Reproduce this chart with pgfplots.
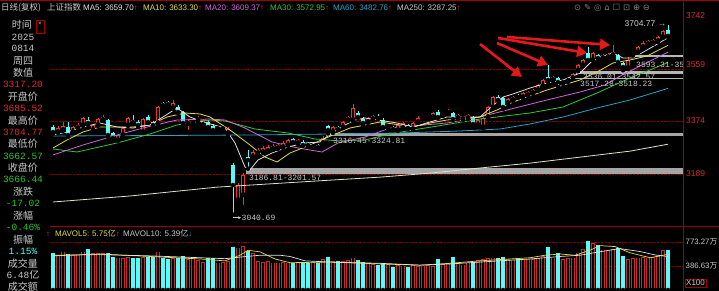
\documentclass[border=0pt]{standalone}
\usepackage{pgfplots}
\pgfplotsset{compat=1.18}
\usepackage{pgfplotstable}
\usepackage{fontspec}
\setmainfont{Liberation Sans}
\newfontfamily\cjk{Noto Sans CJK SC}
\newfontfamily\mono{Liberation Mono}
\newfontfamily\sym{DejaVu Sans}
\usetikzlibrary{arrows.meta}
\definecolor{upred}{RGB}{240,50,50}
\definecolor{dncyan}{RGB}{84,252,252}
\definecolor{ma5c}{RGB}{225,225,225}
\definecolor{ma10c}{RGB}{230,220,70}
\definecolor{ma20c}{RGB}{210,100,220}
\definecolor{ma30c}{RGB}{50,200,50}
\definecolor{ma60c}{RGB}{40,160,200}
\definecolor{ma250c}{RGB}{225,225,200}
\definecolor{gridred}{RGB}{130,0,0}
\definecolor{framered}{RGB}{160,0,0}
\definecolor{txtgrey}{RGB}{200,200,200}
\definecolor{numred}{RGB}{230,40,40}
\definecolor{numgreen}{RGB}{40,200,40}
\definecolor{bandgrey}{RGB}{165,165,165}
\definecolor{arrowred}{RGB}{230,25,25}
\definecolor{axred}{RGB}{220,40,40}

\pgfplotstableread{
i o h l c
1 3330 3351 3326.5 3344
2 3337 3365 3333.5 3351
4 3330 3351 3326.5 3347.5
5 3344 3361.5 3340.5 3354.5
6 3354.5 3382.5 3351 3379
8 3337 3358 3333.5 3354.5
9 3354.5 3379 3351 3375.5
10 3372 3389.5 3368.5 3382.5
13 3302 3323 3298.5 3319.5
14 3319.5 3347.5 3316 3344
15 3354.5 3382.5 3351 3379
18 3330 3379 3326.5 3375.5
21 3361.5 3421 3358 3417.5
24 3414 3442 3410.5 3431.5
27 3358 3372 3330 3365
28 3361.5 3372 3358 3368.5
29 3372 3386 3368.5 3379
30 3354.5 3375.5 3347.5 3372
33 3340.5 3351 3337 3347.5
34 3340.5 3354.5 3337 3347.5
35 3326.5 3347.5 3319.5 3340.5
37 3092 3151.5 3081.5 3144.5
38 3109.5 3186.81 3067.5 3179.5
40 3242.5 3267 3239 3260
41 3256.5 3274 3249.5 3267
42 3260 3281 3256.5 3274
43 3263.5 3284.5 3260 3277.5
44 3270.5 3288 3267 3281
45 3274 3291.5 3270.5 3284.5
46 3277.5 3298.5 3274 3291.5
47 3284.5 3305.5 3281 3302
49 3291.5 3305.5 3288 3302
52 3277.5 3288 3274 3284.5
54 3291.5 3316.45 3288 3309
56 3330 3351 3326.5 3347.5
58 3347.5 3368.5 3344 3365
59 3372 3386 3368.5 3382.5
60 3372 3428 3368.5 3414
63 3365 3382.5 3361.5 3379
64 3375.5 3389.5 3372 3386
67 3344 3354.5 3340.5 3351
69 3337 3358 3333.5 3354.5
70 3344 3365 3340.5 3361.5
72 3340.5 3365 3337 3361.5
73 3365 3386 3361.5 3379
74 3379 3389.5 3375.5 3386
75 3382.5 3393 3379 3389.5
76 3382.5 3400 3379 3396.5
78 3389.5 3400 3386 3396.5
79 3396.5 3410.5 3393 3403.5
81 3379 3393 3375.5 3389.5
82 3375.5 3386 3372 3382.5
83 3379 3393 3375.5 3389.5
85 3354.5 3375.5 3351 3372
86 3347.5 3382.5 3344 3379
87 3382.5 3421 3379 3417.5
88 3417.5 3456 3414 3452.5
91 3431.5 3449 3428 3445.5
92 3442 3456 3438.5 3452.5
94 3452.5 3470 3449 3466.5
95 3459.5 3473.5 3456 3470
96 3466.5 3480.5 3463 3477
97 3477 3498 3473.5 3494.5
98 3491 3515.5 3487.5 3512
100 3512 3526 3508.5 3522.5
102 3501.5 3512 3498 3508.5
103 3508.5 3517.28 3505 3515
104 3519 3536.01 3518.23 3533
105 3545 3568 3542.57 3564.5
106 3564.5 3585.5 3561 3582
108 3582 3610 3578.5 3606.5
110 3589 3603 3585.5 3599.5
111 3592.5 3606.5 3589 3603
112 3599.5 3634.5 3596 3610
115 3554 3593.31 3550.5 3582
116 3599.5 3610 3597.5 3606.5
117 3610 3631 3606.5 3627.5
118 3627.5 3648.5 3624 3641.5
119 3638 3652 3634.5 3648.5
120 3641.5 3655.5 3638 3652
121 3648.5 3666 3645 3662.5
122 3662.5 3687 3659 3683.46
}\uptab

\pgfplotstableread{
i o h l c
0 3347.5 3354.5 3323 3330
3 3347.5 3365 3312.5 3319.5
7 3372 3382.5 3354.5 3361.5
11 3372 3375.5 3312.5 3319.5
12 3326.5 3330 3302 3309
16 3372 3389.5 3361.5 3365
17 3365 3372 3347.5 3354.5
19 3382.5 3389.5 3361.5 3365
20 3365 3368.5 3347.5 3354.5
22 3431.5 3435 3421 3424.5
23 3435 3438.5 3424.5 3428
25 3417.5 3424.5 3396.5 3400
26 3400 3403.5 3358 3361.5
31 3365 3372 3337 3347.5
32 3351 3358 3326.5 3337
36 3214.5 3221.5 3040.69 3144.5
39 3242.5 3267 3201.57 3232
48 3305.5 3309 3291.5 3295
50 3295 3302 3281 3284.5
51 3291.5 3295 3281 3284.5
53 3284.5 3288 3274 3277.5
55 3351 3354.5 3324.81 3337
57 3347.5 3351 3337 3340.5
61 3396.5 3403.5 3379 3382.5
62 3375.5 3382.5 3354.5 3361.5
65 3382.5 3393 3375.5 3379
66 3372 3379 3344 3347.5
68 3347.5 3351 3337 3340.5
71 3354.5 3358 3340.5 3344
77 3400 3407 3379 3382.5
80 3396.5 3400 3372 3375.5
84 3382.5 3386 3354.5 3358
89 3452.5 3459.5 3438.5 3442
90 3449 3452.5 3410.5 3417.5
93 3456 3463 3449 3452.5
99 3522.5 3564.5 3505 3512
101 3519 3522.5 3487.5 3505
107 3606.5 3627.5 3578.5 3582
109 3599.5 3603 3585.5 3589
113 3599.5 3603 3568 3575
114 3571.5 3575 3546 3557.5
123 3685.52 3704.77 3662.57 3666.44
}\dntab

\pgfplotstableread{
i v
1 560
2 617
4 560
5 570
6 617
8 590
9 590
10 590
13 520
14 515
15 530
18 530
21 617
24 515
27 500
28 515
29 480
30 450
33 440
34 450
35 460
37 680
38 709
40 590
41 470
42 450
43 460
44 440
45 440
46 450
47 440
49 440
52 450
54 500
56 470
58 460
59 480
60 520
63 440
64 420
67 420
69 400
70 390
72 400
73 385
74 390
75 395
76 380
78 420
79 430
81 430
82 410
83 440
85 480
86 500
87 510
88 520
91 500
92 490
94 500
95 495
96 500
97 510
98 548
100 520
102 500
103 510
104 520
105 600
106 655
108 752
110 650
111 640
112 660
115 500
116 510
117 520
118 530
119 520
120 530
121 540
122 644
}\vup

\pgfplotstableread{
i v
0 591
3 580
7 660
11 590
12 532
16 515
17 520
19 532
20 532
22 520
23 500
25 515
26 540
31 515
32 520
36 693
39 627
48 435
50 435
51 435
53 440
55 530
57 470
61 480
62 455
65 410
66 430
68 376
71 376
77 500
80 537
84 446
89 521
90 537
93 521
99 687
101 601
107 789
109 725
113 682
114 548
123 648
}\vdn

\begin{document}
\begin{tikzpicture}[x=1pt,y=1pt]
\fill[black] (0pt,0pt) rectangle (719pt,291pt);
\path[use as bounding box] (0pt,0pt) rectangle (719pt,291pt);

% ---------------- price panel ----------------
\begin{axis}[at={(0pt,65pt)}, anchor=south west, scale only axis,
  width=683pt, height=214pt,
  xmin=-10.6, xmax=126, ymin=3001, ymax=3750,
  axis line style={draw=none}, xtick=\empty,
  ytick={3183,3368.5,3550.5}, yticklabels={}, major tick length=0pt,
  ymajorgrids, grid style={densely dotted, gridred, line width=0.6pt},
  clip=false]
% gap bands
\addplot[fill=bandgrey, draw=bandgrey, line width=0.6pt] coordinates {(38.6,3186.81) (126,3186.81) (126,3201.57) (38.6,3201.57)} -- cycle;
\addplot[fill=bandgrey, draw=bandgrey, line width=0.8pt] coordinates {(54.6,3316.45) (126,3316.45) (126,3324.81) (54.6,3324.81)} -- cycle;
\addplot[fill=bandgrey!80, draw=bandgrey!80, line width=0.8pt] coordinates {(104.6,3536.01) (126,3536.01) (126,3542.57) (104.6,3542.57)} -- cycle;
\addplot[fill=bandgrey!80, draw=bandgrey!80, line width=1.2pt] coordinates {(103.6,3517.28) (126,3517.28) (126,3518.23) (103.6,3518.23)} -- cycle;
\addplot[fill=bandgrey!80, draw=bandgrey!80, line width=0.8pt] coordinates {(115.6,3593.31) (126,3593.31) (126,3597.5) (115.6,3597.5)} -- cycle;

% wicks
\addplot[only marks, mark=none, error bars/.cd, y dir=plus, y explicit, error mark=none,
  error bar style={draw=upred, line width=0.7pt}]
  table[x=i, y=l, y error plus expr={\thisrow{h}-\thisrow{l}}] {\uptab};
\addplot[only marks, mark=none, error bars/.cd, y dir=plus, y explicit, error mark=none,
  error bar style={draw=dncyan, line width=0.7pt}]
  table[x=i, y=l, y error plus expr={\thisrow{h}-\thisrow{l}}] {\dntab};
% bodies
\addplot[only marks, mark=none, error bars/.cd, y dir=plus, y explicit, error mark=none,
  error bar style={draw=upred, line width=3.6pt}]
  table[x=i, y=o, y error plus expr={\thisrow{c}-\thisrow{o}}] {\uptab};
\addplot[only marks, mark=none, error bars/.cd, y dir=plus, y explicit, error mark=none,
  error bar style={draw=black, line width=2.2pt}]
  table[x=i, y expr={\thisrow{o}+2.5}, y error plus expr={max(\thisrow{c}-\thisrow{o}-5,0)}] {\uptab};
\addplot[only marks, mark=none, error bars/.cd, y dir=plus, y explicit, error mark=none,
  error bar style={draw=dncyan, line width=3.6pt}]
  table[x=i, y=c, y error plus expr={\thisrow{o}-\thisrow{c}}] {\dntab};

% moving averages
\addplot[ma250c, line width=0.8pt] coordinates {(0,3085) (15.4,3106) (32.8,3137) (49.4,3155) (65.4,3172) (75.4,3186) (85.4,3204) (95.4,3221) (105.4,3242) (115.4,3263) (123,3287.25)};
\addplot[ma60c, line width=0.8pt] coordinates {(0,3316) (19.4,3317.5) (39.4,3319.5) (55.4,3323) (69.4,3326.5) (81.4,3333.5) (89.4,3340.5) (95.4,3358) (102,3382.5) (108.8,3414) (115.4,3442) (123,3482.76)};
\addplot[ma30c, line width=0.8pt] coordinates {(0,3270.5) (4.8,3260) (12.8,3291.5) (19.4,3323) (24.8,3354.5) (31.4,3372) (34.4,3368.5) (40.4,3340.5) (47,3326.5) (52.4,3305.5) (57.4,3298.5) (62.4,3302) (67.4,3323) (72,3337) (79.4,3358) (85.4,3375.5) (95.4,3396.5) (102,3417.5) (108.8,3466.5) (115.4,3519) (123,3572.95)};
\addplot[ma20c, line width=0.8pt] coordinates {(0,3249.5) (6,3284.5) (12.8,3319.5) (18,3344) (24.8,3372) (31.4,3375.5) (34.4,3372) (38.4,3344) (43.8,3295) (49,3274) (53.8,3260) (57,3291.5) (62.4,3312.5) (67.4,3344) (72,3351) (78.8,3361.5) (85.4,3382.5) (92.4,3414) (98.8,3442) (105.4,3470) (110.4,3494.5) (113.8,3529.5) (117.8,3564.5) (123,3609.37)};
\addplot[ma10c, line width=0.8pt] coordinates {(0,3274) (2.8,3302) (6,3330) (9.4,3347.5) (16,3347.5) (19.4,3354.5) (22.8,3382.5) (26.4,3396.5) (29.4,3393) (31.4,3382.5) (35.4,3337) (39.4,3284.5) (42.4,3242.5) (44.8,3225) (47.4,3256.5) (51.4,3284.5) (56,3319.5) (59.4,3344) (65.4,3365) (72,3347.5) (75.4,3361.5) (78.8,3372) (85.4,3382.5) (88.8,3407) (92,3435) (98.8,3477) (105.4,3512) (108.8,3540) (112,3571.5) (115.4,3582) (118.8,3596) (123,3633.3)};
\addplot[ma5c, line width=0.8pt] coordinates {(0,3319.5) (2.8,3330) (6,3347.5) (9.4,3361.5) (12.8,3347.5) (16,3344) (19.4,3354.5) (22,3382.5) (24.8,3414) (27.4,3382.5) (30,3365) (34.4,3344) (36.4,3291.5) (38.4,3207.5) (39.4,3197) (41,3232) (43.8,3256.5) (47,3277.5) (50.4,3291.5) (53.4,3295) (55.8,3326.5) (58.4,3354.5) (60.4,3372) (62.4,3379) (68.8,3361.5) (72,3347.5) (75.4,3365) (78.8,3382.5) (85.4,3382.5) (87.4,3414) (90,3452.5) (92,3463) (95.4,3484) (98.8,3501.5) (102,3512) (105.4,3536.5) (107.4,3571.5) (109.4,3592.5) (112,3606.5) (114,3589) (116,3589) (118.8,3617) (123,3659.7)};

% gap labels
\begin{scope}[every node/.style={font=\mono\fontsize{8}{8}\selectfont, text=txtgrey, inner sep=0pt, anchor=west}]
\node at (axis cs:39.2,3169) {3186.81-3201.57};
\node at (axis cs:56,3298.5) {3316.45-3324.81};
\node at (axis cs:106,3524) {3536.01-3542.57};
\node at (axis cs:105.4,3500) {3517.28-3518.23};
\node at (axis cs:116.6,3566) {3593.31-35};
\end{scope}
% extremes
\node[anchor=east, inner sep=0pt, text=txtgrey, font=\fontsize{8.5}{8.5}\selectfont] at (axis cs:122.7,3708) {3704.77 →};
\draw[txtgrey, line width=0.5pt, -{Stealth[length=3pt,width=3pt]}] (axis cs:36,3040.69) |- (axis cs:37.6,3030);
\node[anchor=west, inner sep=0pt, text=txtgrey, font=\mono\fontsize{8}{8}\selectfont] at (axis cs:37.7,3030) {3040.69};
% red annotation arrows
\begin{scope}[arrowred, line width=2.6pt, -{Triangle[length=10pt,width=11pt]}]
\draw (axis cs:85.4,3638) -- (axis cs:93.8,3522.5);
\draw (axis cs:88.8,3641.5) -- (axis cs:99,3564.5);
\draw (axis cs:89,3659) -- (axis cs:106.8,3606.5);
\draw (axis cs:90.8,3662.5) -- (axis cs:111.4,3634.5);
\end{scope}
\end{axis}

% ---------------- volume panel ----------------
\begin{axis}[at={(0pt,1pt)}, anchor=south west, scale only axis,
  width=683pt, height=62pt,
  xmin=-10.6, xmax=126, ymin=0, ymax=999,
  axis line style={draw=none}, xtick=\empty,
  ytick={386.63,773.27}, yticklabels={}, major tick length=0pt,
  ymajorgrids, grid style={densely dotted, gridred, line width=0.5pt},
  clip=false]
\addplot[only marks, mark=none, error bars/.cd, y dir=plus, y explicit, error mark=none,
  error bar style={draw=upred!85!black, line width=3.6pt}]
  table[x=i, y expr=0, y error plus expr={\thisrow{v}}] {\vup};
\addplot[only marks, mark=none, error bars/.cd, y dir=plus, y explicit, error mark=none,
  error bar style={draw=black, line width=2.2pt}]
  table[x=i, y expr=0, y error plus expr={\thisrow{v}-11}] {\vup};
\addplot[only marks, mark=none, error bars/.cd, y dir=plus, y explicit, error mark=none,
  error bar style={draw=dncyan, line width=3.6pt}]
  table[x=i, y expr=0, y error plus expr={\thisrow{v}}] {\vdn};
\addplot[ma10c, line width=0.7pt] coordinates {(0,550) (9.4,580) (19.4,540) (29.4,500) (34.4,470) (37.4,560) (39,640) (41.4,615) (44.4,500) (47.4,440) (55.4,450) (65.4,420) (73.4,400) (79.4,430) (85.4,470) (91.4,500) (95.4,520) (98.4,560) (101.4,580) (104.4,560) (107.4,640) (109.4,715) (112.4,700) (115.4,600) (119.4,520) (123,575)};
\addplot[ma5c, line width=0.7pt] coordinates {(0,560) (9.4,570) (19.4,550) (29.4,520) (34.4,505) (37.4,530) (41.4,560) (45.4,560) (47.4,540) (50.4,470) (55.4,450) (65.4,430) (73.4,400) (79.4,420) (85.4,450) (91.4,480) (95.4,500) (98.4,520) (101.4,540) (105.4,560) (109.4,617) (113.4,667) (117.4,620) (120.4,565) (123,539)};
\end{axis}

% ---------------- frame ----------------
\fill[black] (0pt,0pt) rectangle (50pt,279pt);
\draw[framered, line width=0.8pt] (683pt,0pt) -- (683pt,291pt);
\draw[framered, line width=0.8pt] (50pt,65pt) -- (719pt,65pt);
\draw[framered, line width=0.6pt] (0pt,290.6pt) -- (719pt,290.6pt);

% header
\begin{scope}[every node/.style={anchor=base west, inner sep=0pt, font=\fontsize{8}{8}\selectfont}]
\node[text=txtgrey, font=\cjk\fontsize{8.5}{8.5}\selectfont] at (1pt,280pt) {日线(复权)};
\node[text=txtgrey, font=\cjk\fontsize{8.5}{8.5}\selectfont] at (47pt,280pt) {上证指数};
\node at (83pt,280pt) {\textcolor{ma5c}{MA5: 3659.70}\textcolor{upred}{↑}};
\node at (143pt,280pt) {\textcolor{ma10c}{MA10: 3633.30}\textcolor{upred}{↑}};
\node at (205pt,280pt) {\textcolor{ma20c}{MA20: 3609.37}\textcolor{upred}{↑}};
\node at (270pt,280pt) {\textcolor{ma30c}{MA30: 3572.95}\textcolor{upred}{↑}};
\node at (333pt,280pt) {\textcolor{ma60c}{MA60: 3482.76}\textcolor{upred}{↑}};
\node at (397pt,280pt) {\textcolor{txtgrey}{MA250: 3287.25}\textcolor{upred}{↑}};
\node[text=gray, font=\sym\fontsize{8.5}{8.5}\selectfont] at (574pt,280pt) {⊙\,\,✎\,\,◎\,\,⌂\,\,☐\,\,⊡\,\,⊕\,\,⊖};
\end{scope}

% volume legend
\begin{scope}[every node/.style={anchor=base west, inner sep=0pt, font=\fontsize{8}{8}\selectfont}]
\node at (46pt,54pt) {\textcolor{upred}{↑}};
\node at (55pt,54pt) {\textcolor{ma10c}{MAVOL5: 5.75{\cjk 亿}}\textcolor{upred}{↑}};
\node at (123pt,54pt) {\textcolor{txtgrey}{MAVOL10: 5.39{\cjk 亿}}\textcolor{ma60c}{↓}};
\end{scope}

% right axis labels
\begin{scope}[every node/.style={anchor=west, inner sep=0pt, font=\fontsize{8.5}{8.5}\selectfont}]
\node[text=axred] at (686pt,275pt) {3742};
\node[text=axred] at (686pt,226pt) {3559};
\node[text=axred] at (686pt,170pt) {3374};
\node[text=axred] at (686pt,117pt) {3189};
\node[text=txtgrey, font=\fontsize{7.8}{7.8}\selectfont] at (685.5pt,49pt) {773.27{\cjk 万}};
\node[text=txtgrey, font=\fontsize{7.8}{7.8}\selectfont] at (685.5pt,25pt) {386.63{\cjk 万}};
\node[text=txtgrey, draw=framered, inner sep=1pt, font=\fontsize{8}{8}\selectfont] at (685pt,8pt) {X100};
\end{scope}

% left info panel
\draw[framered, line width=0.5pt] (36pt,258pt) rectangle (44pt,271pt);
\node[text=txtgrey, inner sep=0pt, font=\fontsize{6}{6}\selectfont] at (40pt,267pt) {×};
\begin{scope}[every node/.style={anchor=center, inner sep=0pt}]
\tikzset{cj/.style={font=\cjk\fontsize{10}{10}\selectfont, text=txtgrey},
         nm/.style={font=\mono\fontsize{9.5}{9.5}\selectfont}}
\node[cj] at (22pt,266pt) {时间};
\node[nm, text=txtgrey] at (23pt,254.1pt) {2025};
\node[nm, text=txtgrey] at (23pt,242.2pt) {0814};
\node[cj] at (23pt,230.3pt) {周四};
\node[cj] at (23pt,218.4pt) {数值};
\node[nm, text=numred] at (23pt,206.5pt) {3317.20};
\node[cj] at (23pt,194.5pt) {开盘价};
\node[nm, text=numred] at (23pt,182.6pt) {3685.52};
\node[cj] at (23pt,170.7pt) {最高价};
\node[nm, text=numred] at (23pt,158.8pt) {3704.77};
\node[cj] at (23pt,146.9pt) {最低价};
\node[nm, text=numgreen] at (23pt,135pt) {3662.57};
\node[cj] at (23pt,123.1pt) {收盘价};
\node[nm, text=numgreen] at (23pt,111.2pt) {3666.44};
\node[cj] at (23pt,99.3pt) {涨跌};
\node[nm, text=numgreen] at (23pt,87.4pt) {-17.02};
\node[cj] at (23pt,75.5pt) {涨幅};
\node[nm, text=numgreen] at (23pt,63.5pt) {-0.46\%};
\node[cj] at (23pt,51.6pt) {振幅};
\node[nm, text=dncyan] at (23pt,39.7pt) {1.15\%};
\node[cj] at (23pt,27.8pt) {成交量};
\node[text=txtgrey] at (23pt,15.9pt) {{\mono\fontsize{9.5}{9.5}\selectfont 6.48}{\cjk\fontsize{10}{10}\selectfont 亿}};
\node[cj] at (23pt,4pt) {成交额};
\end{scope}
\end{tikzpicture}
\end{document}
